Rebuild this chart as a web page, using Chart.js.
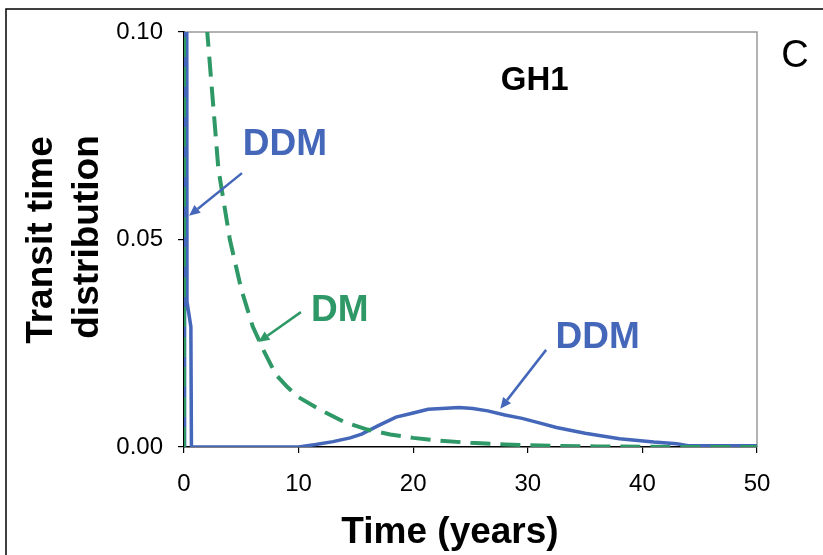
<!DOCTYPE html>
<html>
<head>
<meta charset="utf-8">
<style>
  html, body { margin: 0; padding: 0; background: #fff; }
  canvas { display: block; }
</style>
<script src="https://cdn.jsdelivr.net/npm/chart.js@4.4.0/dist/chart.umd.min.js"></script>
</head>
<body>
<canvas id="ttdChart" width="823" height="555"></canvas>
<script>
// time axis (years) and transit time distributions
const dmTime = [0, 0.02, 1, 2, 3, 4, 5, 6, 7, 8, 9, 10, 12, 14, 16, 18, 20, 22, 25, 28, 32, 36, 40, 45, 50];
const dmValues = [0, 0.6, 0.17, 0.101, 0.067, 0.05, 0.038, 0.029, 0.023, 0.0175, 0.0145, 0.012, 0.0088, 0.006, 0.0042, 0.003, 0.0022, 0.0016, 0.001, 0.0006, 0.0003, 0.00015, 0.00005, 0, 0];

const ddmTime = [0, 0.05, 0.26, 0.6, 0.65, 10, 11.5, 13, 14.5, 15.5, 17, 18.5, 20, 21.3, 22.5, 24, 25.2, 26.5, 28, 29.5, 31, 32.5, 35, 38, 41, 43, 44, 50];
const ddmValues = [0, 0.8, 0.035, 0.029, 0, 0, 0.0006, 0.0013, 0.0022, 0.0031, 0.0052, 0.0072, 0.0082, 0.0091, 0.0093, 0.0095, 0.0093, 0.0087, 0.0077, 0.0069, 0.0058, 0.0047, 0.0033, 0.002, 0.0012, 0.0008, 0.0003, 0.0003];

const xTicks = [0, 10, 20, 30, 40, 50];
const yTicks = [0, 0.05, 0.10];

const BLUE = '#4467b9';
const GREEN = '#2e9866';
const FONT = '"Liberation Sans", Arial, Helvetica, sans-serif';

// callouts in data coordinates
const notes = [
  { text: 'GH1', x: 30.6, y: 0.0882, color: '#000', size: 33 },
  { text: 'DDM', x: 8.8, y: 0.0727, color: BLUE, size: 37 },
  { text: 'DM', x: 13.6, y: 0.0328, color: GREEN, size: 37 },
  { text: 'DDM', x: 36.1, y: 0.0262, color: BLUE, size: 37 }
];
const arrows = [
  { from: [5.06, 0.066], to: [0.44, 0.0557], color: BLUE },
  { from: [10.2, 0.0325], to: [6.5, 0.0253], color: GREEN },
  { from: [31.6, 0.0234], to: [27.6, 0.0092], color: BLUE }
];

const toPoints = (xs, ys) => xs.map((x, i) => ({ x: x, y: ys[i] }));

const decor = {
  id: 'decor',
  beforeDraw(chart) {
    const ctx = chart.ctx;
    ctx.save();
    // panel frame (runs off the right and bottom of the picture)
    ctx.strokeStyle = '#000';
    ctx.lineWidth = 1.5;
    ctx.beginPath();
    ctx.moveTo(6, 555);
    ctx.lineTo(6, 9);
    ctx.lineTo(823, 9);
    ctx.stroke();
    // grey top and right edge of the plot area
    const a = chart.chartArea;
    ctx.strokeStyle = '#999';
    ctx.lineWidth = 1.5;
    ctx.beginPath();
    ctx.moveTo(a.left, a.top);
    ctx.lineTo(a.right, a.top);
    ctx.lineTo(a.right, a.bottom);
    ctx.stroke();
    ctx.restore();
  },
  afterDraw(chart) {
    const ctx = chart.ctx;
    const xs = chart.scales.x, ys = chart.scales.y;
    ctx.save();
    // axis titles
    ctx.fillStyle = '#000';
    ctx.font = 'bold 37px ' + FONT;
    ctx.textAlign = 'center';
    ctx.textBaseline = 'alphabetic';
    ctx.fillText('Time (years)', 450, 543);
    ctx.save();
    ctx.translate(52, 240);
    ctx.rotate(-Math.PI / 2);
    ctx.fillText('Transit time', 0, 0);
    ctx.restore();
    ctx.save();
    ctx.translate(98, 237);
    ctx.rotate(-Math.PI / 2);
    ctx.fillText('distribution', 0, 0);
    ctx.restore();
    // panel letter
    ctx.font = '38px ' + FONT;
    ctx.fillText('C', 795, 67);
    // callout labels
    ctx.textBaseline = 'middle';
    notes.forEach(n => {
      ctx.fillStyle = n.color;
      ctx.font = 'bold ' + n.size + 'px ' + FONT;
      ctx.fillText(n.text, xs.getPixelForValue(n.x), ys.getPixelForValue(n.y));
    });
    // arrows
    arrows.forEach(ar => {
      const x1 = xs.getPixelForValue(ar.from[0]), y1 = ys.getPixelForValue(ar.from[1]);
      const x2 = xs.getPixelForValue(ar.to[0]), y2 = ys.getPixelForValue(ar.to[1]);
      const ang = Math.atan2(y2 - y1, x2 - x1);
      const len = 11, half = 5;
      const bx = x2 - len * Math.cos(ang), by = y2 - len * Math.sin(ang);
      ctx.strokeStyle = ar.color;
      ctx.fillStyle = ar.color;
      ctx.lineWidth = 2.5;
      ctx.beginPath();
      ctx.moveTo(x1, y1);
      ctx.lineTo(bx, by);
      ctx.stroke();
      ctx.beginPath();
      ctx.moveTo(x2, y2);
      ctx.lineTo(bx + half * Math.sin(ang), by - half * Math.cos(ang));
      ctx.lineTo(bx - half * Math.sin(ang), by + half * Math.cos(ang));
      ctx.closePath();
      ctx.fill();
    });
    ctx.restore();
  }
};

new Chart(document.getElementById('ttdChart'), {
  type: 'line',
  data: {
    datasets: [
      {
        label: 'DM',
        data: toPoints(dmTime, dmValues),
        borderColor: GREEN,
        borderWidth: 4,
        borderDash: [20, 10],
        pointRadius: 0,
        tension: 0,
        fill: false
      },
      {
        label: 'DDM',
        data: toPoints(ddmTime, ddmValues),
        borderColor: BLUE,
        borderWidth: 3.5,
        pointRadius: 0,
        tension: 0,
        fill: false
      }
    ]
  },
  options: {
    responsive: false,
    animation: false,
    devicePixelRatio: 1,
    layout: { padding: { top: 32, right: 66, left: 0, bottom: 0 } },
    plugins: { legend: { display: false }, tooltip: { enabled: false } },
    scales: {
      x: {
        type: 'linear',
        min: 0,
        max: 50,
        afterFit: s => { s.height = 108; },
        afterBuildTicks: s => { s.ticks = xTicks.map(v => ({ value: v })); },
        grid: { drawOnChartArea: false, drawTicks: true, tickLength: 6, color: '#000', lineWidth: 1.2 },
        border: { display: true, color: '#000', width: 1.5 },
        ticks: { color: '#000', font: { family: FONT, size: 24 }, padding: 17, maxRotation: 0 }
      },
      y: {
        min: 0,
        max: 0.1,
        afterFit: s => { s.width = 184; },
        afterBuildTicks: s => { s.ticks = yTicks.map(v => ({ value: v })); },
        grid: { drawOnChartArea: false, drawTicks: true, tickLength: 6, color: '#000', lineWidth: 1.2 },
        border: { display: true, color: '#000', width: 1.5 },
        ticks: {
          color: '#000',
          font: { family: FONT, size: 24 },
          padding: 15,
          callback: v => v.toFixed(2)
        }
      }
    }
  },
  plugins: [decor]
});
</script>
</body>
</html>
